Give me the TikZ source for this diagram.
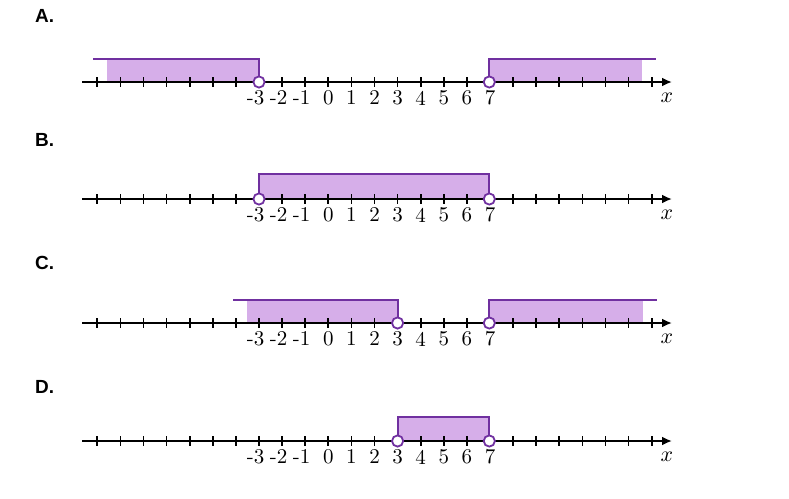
\documentclass[tikz,border=0pt]{standalone}
\usepackage{fontspec}
\newfontfamily\labelfont{Liberation Sans}
\usetikzlibrary{arrows.meta}
\definecolor{darkpurple}{RGB}{112,48,160}
\definecolor{lightpurple}{RGB}{214,174,233}

% one number line: #1 = y of the axis, #2 = prefix for node names
\newcommand{\numline}[2]{%
  \draw[axis] (82,#1) -- (672,#1);
  \foreach \i in {-10,...,14}
    \draw[tick] ({328.3+23.1*\i},#1-5) -- ++(0,10);
  \foreach \i [evaluate=\i as \a using {int(abs(\i))}, count=\k] in {-3,...,7}
    \node[num] (#2n\k) at ({328.3+23.1*\i},#1+16) {\ifnum\i<0 \llap{-}\fi\a};
  \node[num] (#2x) at (667,#1+16) {$x$};
}

\begin{document}
\begin{tikzpicture}[x=0.5pt, y=-0.5pt,
    axis/.style={line width=1pt, -{Latex[length=5pt,width=4.5pt]}},
    tick/.style={line width=0.85pt},
    num/.style={font=\fontsize{10.5}{12}\selectfont, inner sep=0pt},
    shade/.style={fill=lightpurple},
    bound/.style={draw=darkpurple, line width=1pt},
    opendot/.style={circle, draw=darkpurple, fill=white, line width=0.9pt,
                    inner sep=0pt, minimum size=5.6pt},
    letter/.style={font=\labelfont\bfseries\fontsize{9.5}{11}\selectfont, anchor=west}]
  \useasboundingbox (0,0) rectangle (789,499);

  % A: x < -3 or x > 7
  \node[letter] (labA) at (28,16) {A.};
  \coordinate (a1) at (259,82);
  \coordinate (a2) at (489.3,82);
  \fill[shade] (107,59) rectangle (a1);
  \fill[shade] (a2) rectangle (642,59);
  \numline{82}{A}
  \draw[bound] (93,59) -| (a1);
  \draw[bound] (a2) |- (656,59);
  \node[opendot] (a1dot) at (a1) {};
  \node[opendot] (a2dot) at (a2) {};

  % B: -3 < x < 7
  \node[letter] (labB) at (28,140) {B.};
  \coordinate (b1) at (259,199);
  \coordinate (b2) at (489.3,199);
  \fill[shade] (b1) rectangle (489.3,174);
  \numline{199}{B}
  \draw[bound] (b1) -- ++(0,-25) -| (b2);
  \node[opendot] (b1dot) at (b1) {};
  \node[opendot] (b2dot) at (b2) {};

  % C: x < 3 or x > 7
  \node[letter] (labC) at (28,263) {C.};
  \coordinate (c1) at (397.6,323);
  \coordinate (c2) at (489.3,323);
  \fill[shade] (247,300) rectangle (c1);
  \fill[shade] (c2) rectangle (643,300);
  \numline{323}{C}
  \draw[bound] (233,300) -| (c1);
  \draw[bound] (c2) |- (657,300);
  \node[opendot] (c1dot) at (c1) {};
  \node[opendot] (c2dot) at (c2) {};

  % D: 3 < x < 7
  \node[letter] (labD) at (28,387) {D.};
  \coordinate (d1) at (397.6,441);
  \coordinate (d2) at (489.3,441);
  \fill[shade] (d1) rectangle (489.3,417);
  \numline{441}{D}
  \draw[bound] (d1) -- ++(0,-24) -| (d2);
  \node[opendot] (d1dot) at (d1) {};
  \node[opendot] (d2dot) at (d2) {};
\end{tikzpicture}
\end{document}
